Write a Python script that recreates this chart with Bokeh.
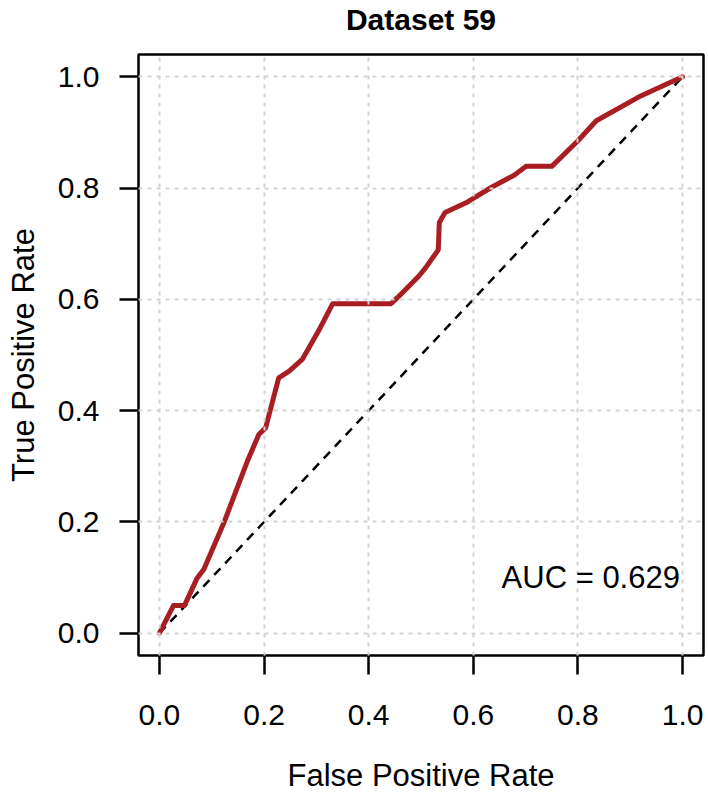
from bokeh.plotting import figure
from bokeh.models import Range1d, FixedTicker, Label, Title
from bokeh.embed import file_html
from bokeh.resources import INLINE

# ROC curve values
fpr = [0.0, 0.027, 0.048, 0.072, 0.085, 0.123, 0.168, 0.190, 0.203, 0.228,
       0.248, 0.273, 0.304, 0.331, 0.442, 0.455, 0.496, 0.509, 0.533, 0.535,
       0.546, 0.589, 0.634, 0.678, 0.701, 0.750, 0.800, 0.835, 0.921, 1.0]
tpr = [0.0, 0.050, 0.050, 0.099, 0.115, 0.198, 0.309, 0.357, 0.369, 0.459,
       0.471, 0.492, 0.543, 0.592, 0.592, 0.603, 0.642, 0.657, 0.689, 0.738,
       0.756, 0.775, 0.801, 0.823, 0.839, 0.839, 0.885, 0.921, 0.966, 1.0]
chance_x = [0.0, 1.0]
chance_y = [0.0, 1.0]
ticks = [0.0, 0.2, 0.4, 0.6, 0.8, 1.0]
tick_labels = {0.0: "0.0", 0.2: "0.2", 0.4: "0.4", 0.6: "0.6", 0.8: "0.8", 1.0: "1.0"}
title_text = "Dataset 59"
x_label = "False Positive Rate"
y_label = "True Positive Rate"
auc_text = "AUC = 0.629"
auc_pos = (0.995, 0.1)

FONT = "Liberation Sans"

p = figure(output_backend="svg", toolbar_location=None,
           frame_width=565, frame_height=601,
           x_range=Range1d(-0.04, 1.04), y_range=Range1d(-0.04, 1.04),
           min_border_left=138, min_border_right=5,
           min_border_top=54, min_border_bottom=141)
p.title_location = None

# spacer panel between the frame and the title (keeps the title high)
p.add_layout(Title(text=" ", text_font_size="10px", standoff=6), "above")
p.add_layout(Title(text=title_text, align="center", text_font=FONT,
                   text_font_size="30px", text_font_style="bold",
                   text_color="black", standoff=0), "above")

p.outline_line_color = "black"
p.outline_line_width = 2.5
p.background_fill_color = "white"
p.border_fill_color = "white"

for ax in (p.xaxis[0], p.yaxis[0]):
    ax.ticker = FixedTicker(ticks=ticks)
    ax.major_label_overrides = tick_labels
    ax.axis_line_color = None
    ax.major_tick_line_color = "black"
    ax.major_tick_line_width = 2.5
    ax.major_tick_out = 19
    ax.major_tick_in = 0
    ax.minor_tick_line_color = None
    ax.major_label_text_font = FONT
    ax.major_label_text_font_size = "30px"
    ax.major_label_text_color = "black"
    ax.axis_label_text_font = FONT
    ax.axis_label_text_font_size = "31px"
    ax.axis_label_text_font_style = "normal"
    ax.axis_label_text_color = "black"

p.xaxis[0].axis_label = x_label
p.yaxis[0].axis_label = y_label
p.xaxis[0].major_label_standoff = 30
p.xaxis[0].axis_label_standoff = 30
p.yaxis[0].major_label_standoff = 20
p.yaxis[0].major_label_orientation = "horizontal"
p.yaxis[0].axis_label_standoff = 14

for g in (p.xgrid[0], p.ygrid[0]):
    g.ticker = FixedTicker(ticks=ticks)
    g.grid_line_color = "#D3D3D3"
    g.grid_line_width = 2
    g.grid_line_dash = "4 5"

p.line(chance_x, chance_y, line_color="black", line_width=2.5, line_dash="9 7")
p.line(fpr, tpr, line_color="#A81E22", line_width=5, line_join="round", line_cap="round")

p.xgrid[0].level = "annotation"
p.ygrid[0].level = "annotation"

p.add_layout(Label(x=auc_pos[0], y=auc_pos[1], text=auc_text, text_align="right",
                   text_baseline="middle", text_font=FONT, text_font_size="31px",
                   text_color="black"))

open("out.html", "w").write(file_html(p, INLINE))
